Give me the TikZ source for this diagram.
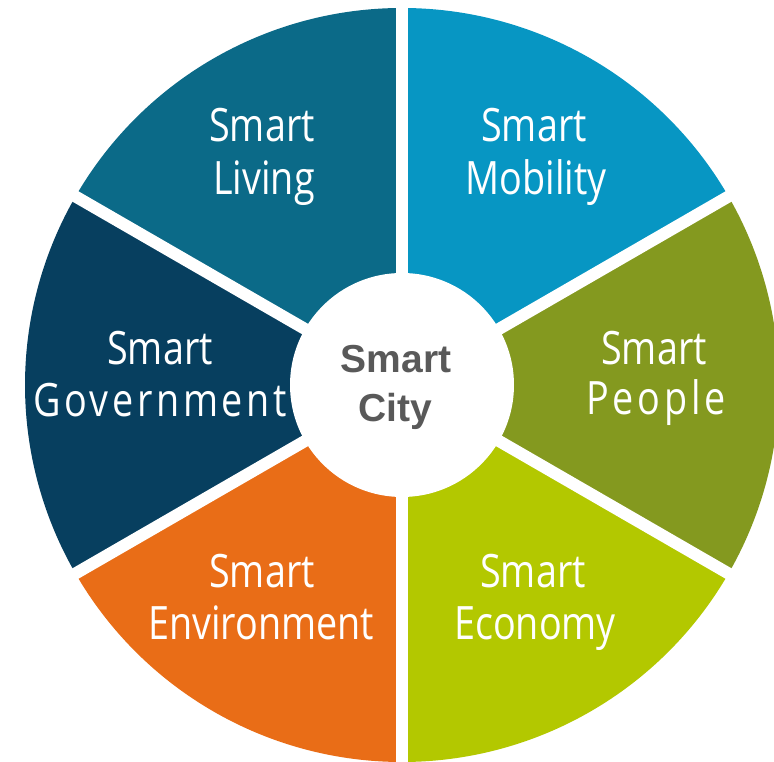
\documentclass[tikz,border=0pt]{standalone}
\usepackage{fontspec}
\setmainfont{Open Sans}
\newfontfamily\lblfont[FakeStretch=0.82]{Open Sans}
\newfontfamily\lblfontsp[FakeStretch=0.82,LetterSpace=8]{Open Sans}
\newfontfamily\ctrfont{Liberation Sans}
\definecolor{cLiving}{HTML}{0B6A88}
\definecolor{cMobility}{HTML}{0796C3}
\definecolor{cGov}{HTML}{073F5F}
\definecolor{cPeople}{HTML}{84991F}
\definecolor{cEconomy}{HTML}{B3C800}
\definecolor{cEnv}{HTML}{E96D17}
\definecolor{cCenter}{HTML}{595959}
\tikzset{
  lbl/.style={text=white, inner sep=0pt, anchor=base, font=\lblfont\fontsize{46}{50}\selectfont},
  lblsp/.style={text=white, inner sep=0pt, anchor=base, font=\lblfontsp\fontsize{46}{50}\selectfont},
  ctr/.style={text=cCenter, inner sep=0pt, anchor=base, font=\ctrfont\bfseries\fontsize{39}{44}\selectfont},
  gap/.style={draw=white, line width=12pt}
}
\begin{document}
\begin{tikzpicture}[x=1pt,y=1pt]
\useasboundingbox (0,0) rectangle (774,762);
\clip (0,0) rectangle (774,762);
\fill[white] (0,0) rectangle (774,762);
\coordinate (O) at (402,377);
\def\R{377}
% wedges
\fill[cMobility] (O) -- ++(30:\R) arc[start angle=30, end angle=90, radius=\R] -- cycle;
\fill[cLiving] (O) -- ++(90:\R) arc[start angle=90, end angle=150, radius=\R] -- cycle;
\fill[cGov] (O) -- ++(150:\R) arc[start angle=150, end angle=210, radius=\R] -- cycle;
\fill[cEnv] (O) -- ++(210:\R) arc[start angle=210, end angle=270, radius=\R] -- cycle;
\fill[cEconomy] (O) -- ++(270:\R) arc[start angle=270, end angle=330, radius=\R] -- cycle;
\fill[cPeople] (O) -- ++(330:\R) arc[start angle=330, end angle=390, radius=\R] -- cycle;
% gaps
\foreach \a in {30,90,150,210,270,330}
  \draw[gap] (O) -- ++(\a:\R+10);
% centre disc
\fill[white] (O) circle[radius=112];
% labels
\node[lbl] (liv1) at (262,620) {Smart};
\node[lbl] (liv2) at (264,567) {Living};
\node[lbl] (mob1) at (534,620) {Smart};
\node[lbl] (mob2) at (536,567) {Mobility};
\node[lbl] (gov1) at (160,397) {Smart};
\node[lblsp] (gov2) at (160,345) {Government};
\node[lbl] (peo1) at (654,397) {Smart};
\node[lblsp] (peo2) at (656,347) {People};
\node[lbl] (env1) at (262,174) {Smart};
\node[lbl] (env2) at (261,122) {Environment};
\node[lbl] (eco1) at (533,174) {Smart};
\node[lbl] (eco2) at (535,122) {Economy};
\node[ctr] (ctr1) at (396,389) {Smart};
\node[ctr] (ctr2) at (395,340) {City};
\end{tikzpicture}
\end{document}
